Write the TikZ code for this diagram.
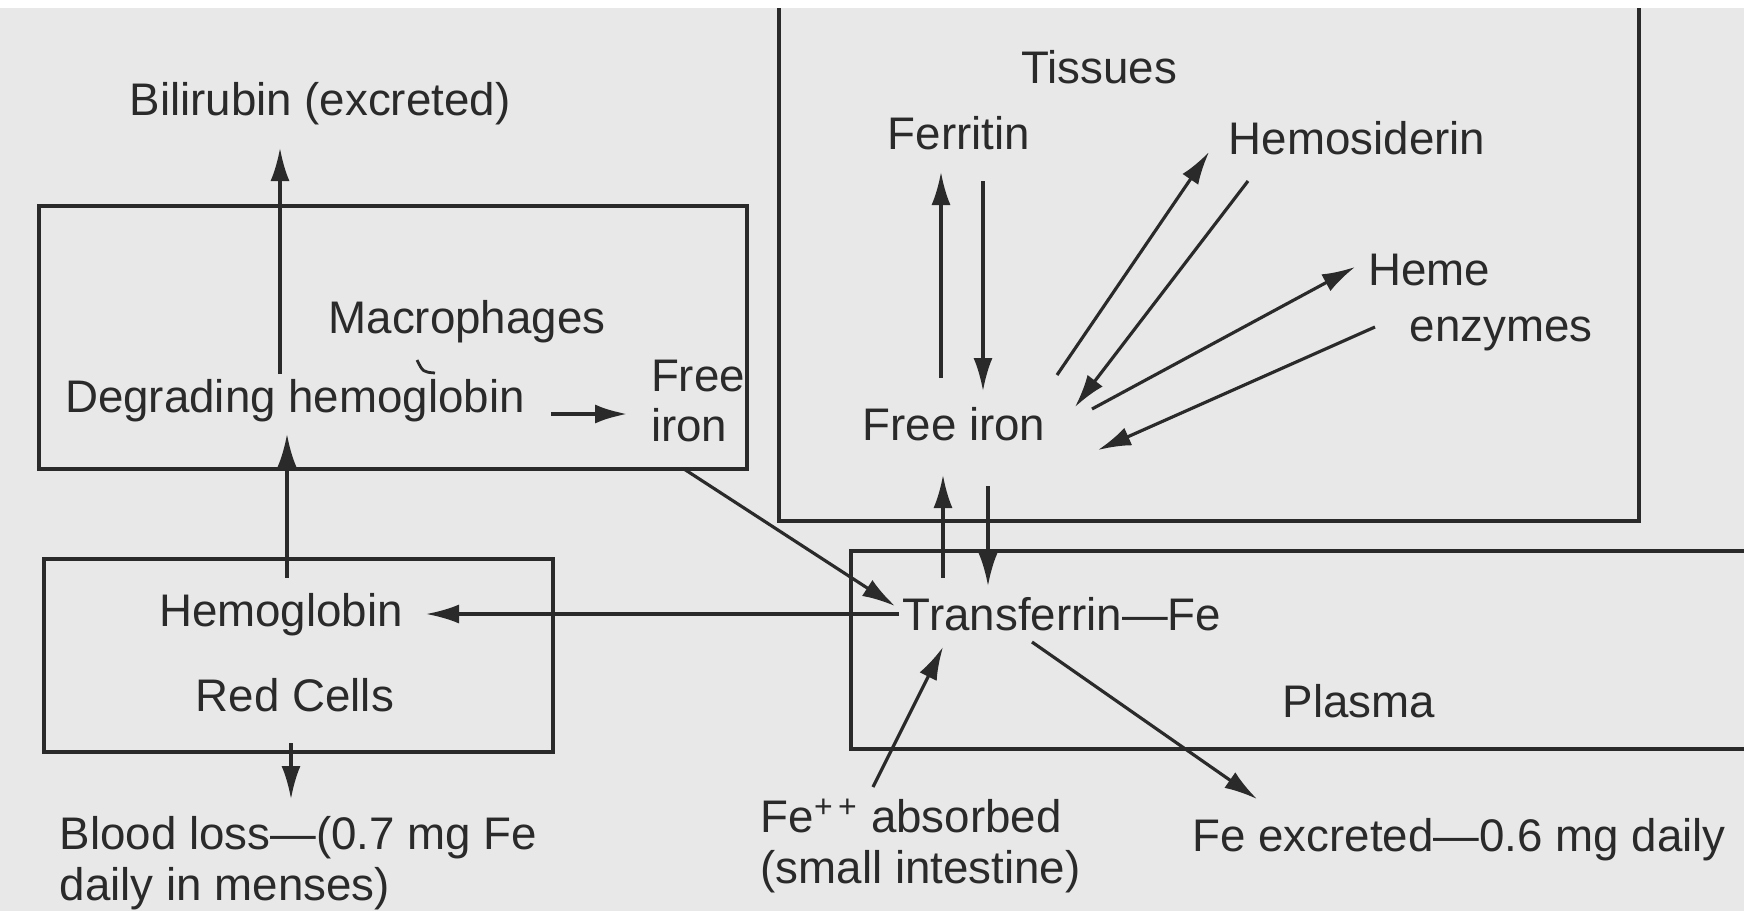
\documentclass[tikz,border=0pt]{standalone}
\usepackage{fontspec}
\setmainfont{Liberation Sans}
\usetikzlibrary{arrows.meta, positioning, calc}
\definecolor{paper}{HTML}{E8E8E8}
\definecolor{ink}{HTML}{2A2A2A}
\tikzset{
    lbl/.style={
        inner sep=0pt, text=ink,
        font=\fontsize{13}{14.5}\selectfont, align=left
    },
    box/.style={draw=ink, line width=1pt},
    flow/.style={-{Latex[length=3.3mm, width=1.9mm]}, draw=ink, line width=0.9pt}
}
\begin{document}
\begin{tikzpicture}[x=0.1mm, y=-0.1mm]
    \useasboundingbox (0,0) rectangle (1744,911);
    \fill[paper] (0,8) rectangle (1744,911);

    % compartments
    \draw[box] (39,206) rectangle (747,469);
    \draw[box] (44,559) rectangle (553,752);
    \draw[box] (779,8) -- (779,521) -- (1639,521) -- (1639,8);
    \draw[box] (1744,551) -- (851,551) -- (851,749) -- (1744,749);

    % labels
    \node[lbl] (bili) at (320,104) {Bilirubin (excreted)};
    \node[lbl] (tis) at (1099,67) {Tissues};
    \node[lbl] (ferr) at (959,133) {Ferritin};
    \node[lbl] (hsid) at (1357,138) {Hemosiderin};
    \node[lbl] (heme) at (1429,270) {Heme};
    \node[lbl] (enz) at (1501,334) {enzymes};
    \node[lbl] (macro) at (467,322) {Macrophages};
    \node[lbl] (deg) at (295,401) {Degrading hemoglobin};
    \node[lbl] (mfree) at (698,401) {Free\\iron};
    \node[lbl] (tfree) at (954,424) {Free iron};
    \node[lbl] (tfe) at (1062,614) {Transferrin---Fe};
    \node[lbl] (hgb) at (281,615) {Hemoglobin};
    \node[lbl] (rc) at (295,695) {Red Cells};
    \node[lbl] (plas) at (1359,701) {Plasma};
    \node[lbl, anchor=west] (loss) at (59,863) {Blood loss---(0.7 mg Fe\\daily in menses)};
    \node[lbl, anchor=west] (abs) at (760,846) {Fe\textsuperscript{+\,+} absorbed\\(small intestine)};
    \node[lbl] (exc) at (1459,840) {Fe excreted---0.6 mg daily};

    % tick under Macrophages
    \draw[ink, line width=0.8pt] ($(macro)+(-50,38)$) .. controls ($(macro)+(-44,50)$) .. ($(macro)+(-32,51)$);

    % red cells and macrophages
    \draw[flow] ($(deg)+(-15,-27)$) -- ($(bili)+(-40,44)$);
    \draw[flow] ($(hgb)+(6,-37)$) -- ($(deg)+(-8,33)$);
    \draw[flow, line width=1.3pt] ($(deg)+(256,13)$) -- ($(mfree)+(-70,13)$);
    \draw[flow] ($(mfree)+(-14,68)$) -- ($(tfe)+(-167,-8)$);
    \draw[flow] ($(tfe)+(-163,0)$) -- ($(hgb)+(145,-1)$);
    \draw[flow] ($(rc)+(-4,48)$) -- ($(loss.west)+(232,-64)$);

    % plasma and tissues
    \draw[flow] ($(tfe)+(-119,-36)$) -- ($(tfree)+(-11,51)$);
    \draw[flow] ($(tfree)+(34,62)$) -- ($(tfe)+(-74,-28)$);
    \draw[flow] ($(tfree)+(-13,-46)$) -- ($(ferr)+(-18,39)$);
    \draw[flow] ($(ferr)+(24,48)$) -- ($(tfree)+(29,-33)$);
    \draw[flow] ($(tfree)+(103,-49)$) -- ($(hsid)+(-148,14)$);
    \draw[flow] ($(hsid)+(-109,43)$) -- ($(tfree)+(121,-17)$);
    \draw[flow] ($(tfree)+(138,-15)$) -- ($(heme)+(-74,-3)$);
    \draw[flow] ($(enz)+(-126,-7)$) -- ($(tfree)+(144,26)$);
    \draw[flow] ($(abs.west)+(113,-59)$) -- ($(tfe)+(-119,33)$);
    \draw[flow] ($(tfe)+(-30,28)$) -- ($(exc)+(-202,-41)$);
\end{tikzpicture}
\end{document}
